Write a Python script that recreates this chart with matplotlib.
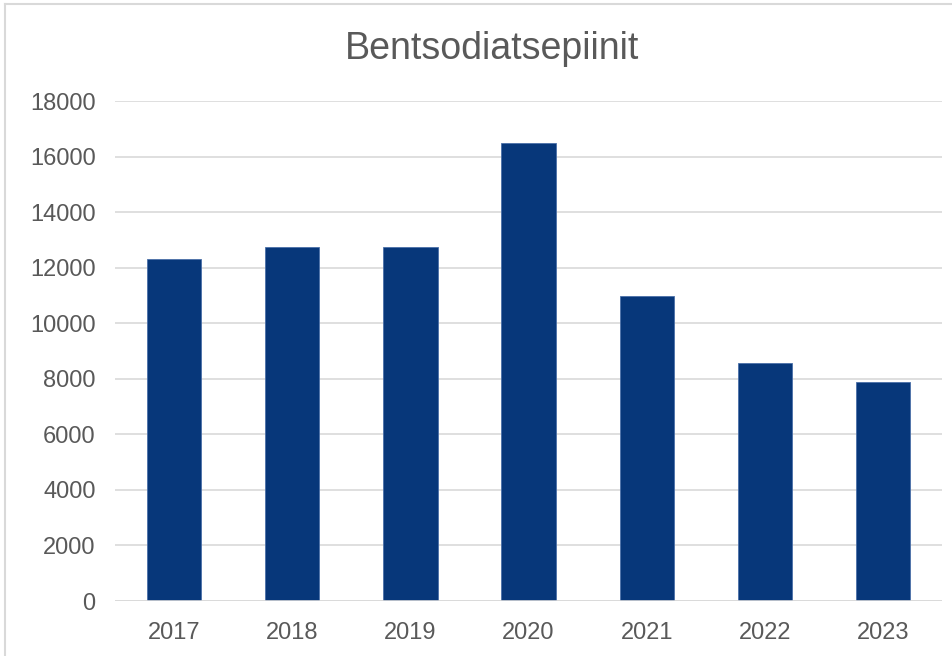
import matplotlib.pyplot as plt
from matplotlib.lines import Line2D

years = ['2017', '2018', '2019', '2020', '2021', '2022', '2023']
counts = [12310, 12740, 12740, 16490, 10980, 8570, 7880]

plt.rcParams['font.family'] = ['Liberation Sans', 'DejaVu Sans']

fig = plt.figure(figsize=(9.53, 6.56), dpi=100)
ax = fig.add_axes([0.1207, 0.0838, 0.8678, 0.7622])

ax.bar(years, counts, width=0.46, color='#07377A', edgecolor='#4a6fa8',
       linewidth=0.6, zorder=2)
ax.axhline(0, color='#d9d9d9', linewidth=1.2, zorder=3)

ax.set_ylim(0, 18000)
ax.set_xlim(-0.5, len(years) - 0.5)
ax.set_yticks(range(0, 18001, 2000))
ax.grid(axis='y', color='#d9d9d9', linewidth=1.2, zorder=0)
ax.set_axisbelow(True)
for s in ax.spines.values():
    s.set_visible(False)
ax.tick_params(length=0, labelsize=17, colors='#595959')
ax.tick_params(axis='x', pad=15)
ax.tick_params(axis='y', pad=14)

fig.text(0.516, 0.925, 'Bentsodiatsepiinit', ha='center', va='center',
         fontsize=27, color='#595959')

# outer chart border (only top and left visible in the crop)
fig.add_artist(Line2D([5 / 953, 5 / 953], [0, 1 - 4 / 656], color='#d9d9d9', linewidth=1.5))
fig.add_artist(Line2D([5 / 953, 1], [1 - 4 / 656, 1 - 4 / 656], color='#d9d9d9', linewidth=1.5))

fig.savefig('out.png', dpi=100)
